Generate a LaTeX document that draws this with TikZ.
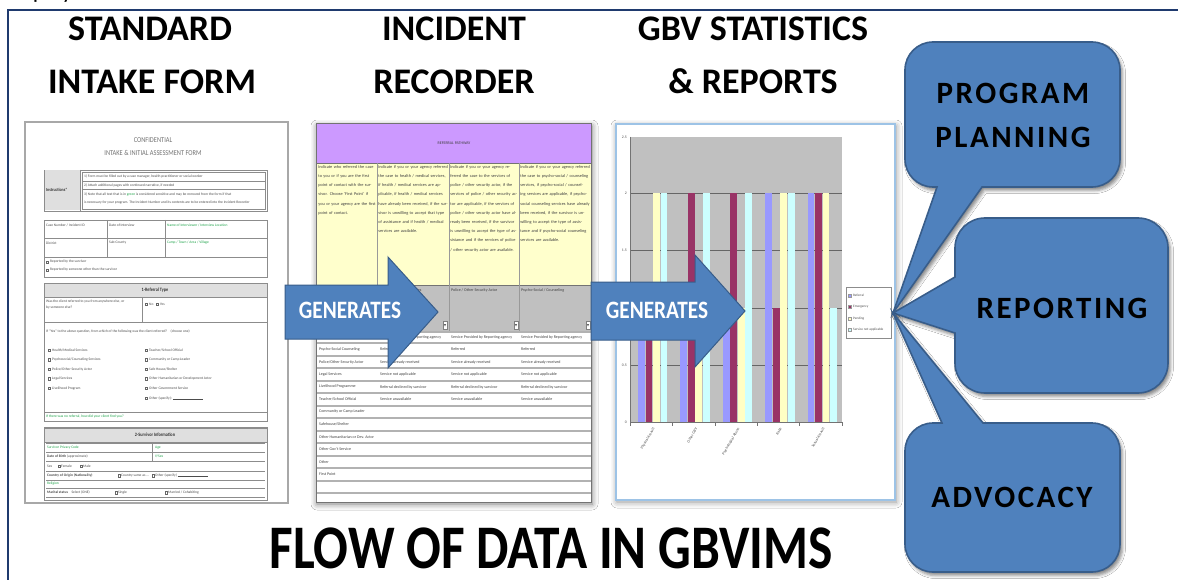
\documentclass[tikz,border=0pt]{standalone}
\usepackage{fontspec}
\setmainfont{Carlito}
\newfontfamily\bubfont[LetterSpace=8]{Carlito}
\usepackage{graphicx}
\usetikzlibrary{shadows,shadows.blur}
\definecolor{navy}{HTML}{1F3A6E}
\definecolor{arrfill}{HTML}{4F81BD}
\definecolor{arrline}{HTML}{385D8A}
\definecolor{purp}{HTML}{CC99FF}
\definecolor{ylw}{HTML}{FFFFCC}
\definecolor{gry}{HTML}{C0C0C0}
\definecolor{barb}{HTML}{9999FF}
\definecolor{barm}{HTML}{993366}
\definecolor{bary}{HTML}{FFFFC4}
\definecolor{barc}{HTML}{CCFFFF}
\definecolor{frm}{HTML}{A8A8A8}
\definecolor{chartb}{HTML}{9DC3E6}
\definecolor{grn}{HTML}{1FA34A}
\newcommand\hs[1]{\scalebox{0.85}[1]{#1}}
\newcommand\cbx[2]{\draw[black!60, line width=0.3] (#1,#2-1.2) rectangle ++(2.2,2.4);}
\begin{document}
\begin{tikzpicture}[x=1pt,y=-1pt,
  head/.style={font=\bfseries\fontsize{36}{36}\selectfont, inner sep=0, text=black},
  titl/.style={font=\bfseries\fontsize{62}{62}\selectfont, inner sep=0, text=black},
  gen/.style={font=\bfseries\fontsize{25}{25}\selectfont, text=white, inner sep=0},
  bub/.style={fill=arrfill, draw=arrline, line width=1.6,
     blur shadow={shadow xshift=2.5pt, shadow yshift=-3.5pt, shadow blur radius=3pt, shadow opacity=45}},
  bubtxt/.style={font=\bubfont\bfseries\fontsize{31}{31}\selectfont, inner sep=0, text=black},
  arr/.style={fill=arrfill, draw=arrline, line width=1},
  ft/.style={font=\fontsize{3.6}{4.2}\selectfont, inner sep=0, anchor=west, text=black!70},
  fg/.style={ft, text=grn},
  fb/.style={font=\bfseries\fontsize{5}{5}\selectfont, inner sep=0, text=black!80},
  tbl/.style={draw=black!45, line width=0.6},
  rt/.style={font=\fontsize{4}{4.5}\selectfont, inner sep=0, anchor=west, text=black!75},
  para/.style={font=\fontsize{4.3}{9.2}\selectfont, inner sep=1.2, anchor=north west, align=left, text=black!75},
  rowl/.style={draw=gray!60, line width=1.2},
  gridl/.style={draw=black!60, line width=0.9},
  ct/.style={font=\fontsize{3.8}{4}\selectfont, inner sep=0, text=black!70}
]
\useasboundingbox (0,0) rectangle (1178,580);
\fill[white] (0,0) rectangle (1178,580);
% cut-off text at top edge
\node[font=\fontsize{24}{24}\selectfont, anchor=base west, inner sep=0, text=black] (disp) at (3,-1) {Display};
% frame
\draw[navy, line width=2] (8,580) -- (8,10) -- (1178,10);

% headings
\node[head] (h1a) at (150,29) {STANDARD};
\node[head] (h1b) at (152,81.5) {INTAKE FORM};
\node[head] (h2a) at (454,29) {INCIDENT};
\node[head] (h2b) at (454,81.5) {RECORDER};
\node[head] (h3a) at (753,29) {GBV STATISTICS};
\node[head] (h3b) at (753,81.5) {\& REPORTS};

% ================= FORM =================
\draw[frm, line width=1.4, fill=white] (25,122) rectangle (288,503);
\node[font=\fontsize{7.5}{7.5}\selectfont, inner sep=0, text=black!55] (f1) at (153,140) {\hs{CONFIDENTIAL}};
\node[font=\fontsize{7.5}{7.5}\selectfont, inner sep=0, text=black!55] (f2) at (153,153) {\hs{INTAKE \& INITIAL ASSESSMENT FORM}};
% instructions
\draw[tbl] (44,170) rectangle (267,211);
\fill[gray!25] (44.5,170.5) rectangle (80,210.5);
\draw[tbl] (80,170) -- (80,211);
\node[fb, anchor=west, font=\bfseries\fontsize{4.6}{5}\selectfont] (fi) at (46,190) {\hs{Instructions*}};
\draw[tbl] (82,172) rectangle (265,181);
\draw[tbl] (82,181) rectangle (265,189);
\draw[tbl] (82,189) rectangle (265,209);
\node[ft] at (84,176.5) {1) Form must be filled out by a case manager, health practitioner or social worker};
\node[ft] at (84,185) {2) Attach additional pages with continued narrative, if needed};
\node[ft] at (84,194) {3) Note that all text that is in {\color{grn}green} is considered sensitive and may be removed from the form if that};
\node[ft] at (84,203) {is necessary for your program. The Incident Number and its contents are to be entered into the Incident Recorder};
% case table
\draw[tbl] (44,220) rectangle (267,277);
\draw[tbl] (107,220) -- (107,257);
\draw[tbl] (165,220) -- (165,257);
\draw[tbl] (44,238) -- (267,238);
\draw[tbl] (44,257) -- (267,257);
\node[ft] at (46,225) {Case Number / Incident ID};
\node[ft] at (109,225) {Date of Interview};
\node[fg] at (167,225) {Name of Interviewer / Interview Location};
\node[ft] at (46,243) {District};
\node[ft] at (109,243) {Sub-County};
\node[fg] at (167,243) {Camp / Town / Area / Village};
\cbx{46}{262} \node[ft] at (50,262) {Reported by the survivor};
\cbx{46}{270} \node[ft] at (50,270) {Reported by someone other than the survivor};
% referral type
\draw[tbl, fill=gray!25] (44,283) rectangle (267,297);
\node[fb] (fr) at (155,290) {\hs{1-Referral Type}};
\draw[tbl] (44,297) rectangle (267,322);
\draw[tbl] (142,297) -- (142,322);
\node[ft] at (46,302) {Was the client referred to you from anywhere else, or};
\node[ft] at (46,308) {by someone else?};
\cbx{145}{304} \node[ft] at (149,304) {No};
\cbx{156}{304} \node[ft] at (160,304) {Yes};
\draw[tbl] (44,322) rectangle (267,412);
\node[ft] at (46,331) {If ``Yes'' to the above question, from which of the following was the client referred?\quad (choose one)};
\foreach \t [count=\i from 0] in {Health/Medical Services, Psychosocial/Counseling Services, Police/Other Security Actor, Legal Services, Livelihood Program}{
  \cbx{48}{350+9.6*\i} \node[ft] at (52,350+9.6*\i) {\t};
}
\foreach \t [count=\i from 0] in {Teacher/School Official, Community or Camp Leader, Safe House/Shelter, Other Humanitarian or Development Actor, Other Government Service, Other (specify): \rule{30pt}{0.2pt}}{
  \cbx{145}{350+9.6*\i} \node[ft] at (149,350+9.6*\i) {\t};
}
\draw[tbl] (44,412) rectangle (267,421);
\node[fg] at (46,416.5) {If there was no referral, how did your client find you?};
% survivor info
\draw[tbl] (44,427) rectangle (267,500);
\draw[tbl, fill=gray!25] (44,428) rectangle (267,442);
\node[fb] (fs) at (155,435) {\hs{2-Survivor Information}};
\foreach \yy in {443,452,461,471,480,488,497}{ \draw[tbl] (46,\yy) -- (265,\yy); }
\draw[tbl] (152,443) -- (152,461);
\node[fg] at (47,447.5) {Survivor Privacy Code};
\node[fg] at (155,447.5) {Age};
\node[ft] at (47,456.5) {\textbf{Date of Birth} (approximate)};
\node[fg] at (155,456.5) {Y/Sex};
\node[ft] at (47,466) {Sex};
\cbx{58}{466} \node[ft] at (61,466) {Female};
\cbx{80}{466} \node[ft] at (83,466) {Male};
\node[ft] at (47,475.5) {\textbf{Country of Origin (Nationality)}};
\cbx{118}{475.5} \node[ft] at (121,475.5) {Country same as ...};
\cbx{152}{475.5} \node[ft] at (155,475.5) {Other (specify) \rule{30pt}{0.2pt}};
\node[fg] at (47,484) {Religion};
\node[ft] at (47,492.5) {\textbf{Marital status}\quad Select (ONE)};
\cbx{115}{492.5} \node[ft] at (118,492.5) {Single};
\cbx{165}{492.5} \node[ft] at (168,492.5) {Married / Cohabiting};

% ================= INCIDENT RECORDER =================
\fill[white, blur shadow={shadow xshift=1pt, shadow yshift=-2pt, shadow blur radius=6pt, shadow opacity=55}] (316,124) rectangle (591,502);
\fill[purp] (317,124) rectangle (591,163);
\node[font=\fontsize{4}{4}\selectfont, inner sep=0, text=black!75] (rp) at (454,143) {REFERRAL PATHWAY};
\fill[ylw] (317,163) rectangle (591,285);
\fill[gry] (317,285) rectangle (591,332);
\draw[black!55, line width=0.6] (317,163) -- (591,163);
\draw[black!55, line width=0.6] (317,285) -- (591,285);
\foreach \xx in {377,449,519}{ \draw[black!40, line width=0.5] (\xx,163) -- (\xx,332); }
\node[para, text width=57.6] (c1) at (317,164) {Indicate who referred the case to you or if you are the first point of contact with the survivor. Choose 'First Point' if you or your agency are the first point of contact.};
\node[para, text width=69.6] (c2) at (377,164) {Indicate if you or your agency referred the case to health / medical services, if health / medical services are applicable, if health / medical services have already been received, if the survivor is unwilling to accept that type of assistance and if health / medical services are available.};
\node[para, text width=67.6] (c3) at (449,164) {Indicate if you or your agency referred the case to the services of police / other security actor, if the services of police / other security actor are applicable, if the services of police / other security actor have already been received, if the survivor is unwilling to accept the type of assistance and if the services of police / other security actor are available.};
\node[para, text width=69.6] (c4) at (519,164) {Indicate if you or your agency referred the case to psycho-social / counseling services, if psycho-social / counseling services are applicable, if psycho-social counseling services have already been received, if the survivor is unwilling to accept the type of assistance and if psycho-social counseling services are available.};
\node[rt] at (380,290) {Health / Medical Services};
\node[rt] at (451,290) {Police / Other Security Actor};
\node[rt] at (521,290) {Psycho-Social / Counseling};
\foreach \xx in {443,514,586}{ \draw[black!50, fill=white, line width=0.3] (\xx,321) rectangle ++(4,8); \fill[black!60] (\xx+0.8,324) -- (\xx+3.2,324) -- (\xx+2,326.5) -- cycle; }
\foreach \yy in {332,343,356,368,381,393,406,418,431,443,456,468,481,493}{ \draw[rowl] (317,\yy) -- (591,\yy); }
\foreach \t [count=\i from 0] in {Psycho-Social Counseling, Police/Other Security Actor, Legal Services, Livelihood Programme, Teacher/School Official, Community or Camp Leader, Safehouse/Shelter, Other Humanitarian or Dev. Actor, Other Gov't Service, Other, First Point}{
  \node[rt] at (319,349.5+12.48*\i) {\t};
}
\foreach \xx in {380,451,521}{
  \node[rt] at (\xx,337.5) {Service Provided by Reporting agency};
  \foreach \t [count=\i from 0] in {Referred, Service already received, Service not applicable, Referral declined by survivor, Service unavailable}{
    \node[rt] at (\xx,349.5+12.48*\i) {\t};
  }
}
\draw[black!55, line width=1] (316,124) rectangle (591,502);

% ================= CHART =================
\draw[chartb, line width=1.2, fill=white, blur shadow={shadow xshift=1pt, shadow yshift=-2pt, shadow blur radius=6pt, shadow opacity=45}] (616,124) rectangle (895,500);
\fill[gry] (630,137) rectangle (842,422);
\foreach \yy in {193,250,308,365}{ \draw[gridl] (630,\yy) -- (842,\yy); }
\foreach \g/\va/\vb/\vc/\vd in {0/1/1/2/2,1/1/2/1/2,2/1/2/1/2,3/2/1/2/2,4/2/2/2/1}{
  \pgfmathsetmacro\gx{630+42.4*\g}
  \fill[barb] (\gx+8,422) rectangle (\gx+14.8,422-114.5*\va);
  \fill[barm] (\gx+15.5,422) rectangle (\gx+22.3,422-114.5*\vb);
  \fill[bary] (\gx+23,422) rectangle (\gx+29.8,422-114.5*\vc);
  \fill[barc] (\gx+30.5,422) rectangle (\gx+37.3,422-114.5*\vd);
}
\draw[black!55, line width=0.6] (630,137) -- (630,422) -- (842,422);
\foreach \k in {0,...,5}{ \draw[black!55, line width=0.6] (630+42.4*\k,422) -- (630+42.4*\k,426); }
\foreach \yy/\t in {137/2.5,193/2,250/1.5,308/1,365/0.5,422/0}{ \node[ct, anchor=east] at (627,\yy) {\t}; }
\foreach \g/\t in {0/Physical Assault,1/Other GBV,2/Psychological Abuse,3/Rape,4/Sexual Assault}{
  \node[ct, rotate=60, anchor=east] at (630+42.4*\g+24,428) {\t};
}
\draw[black!45, fill=white, line width=0.5] (846,287) rectangle (891,338);
\foreach \c/\t [count=\i from 0] in {barb/Referral,barm/Emergency,bary/Pending,barc/Service not applicable}{
  \fill[\c, draw=black!40, line width=0.2] (848.5,294+11.5*\i) rectangle ++(3,3);
  \node[ct, anchor=west, font=\fontsize{3.4}{4}\selectfont] at (853,295.5+11.5*\i) {\t};
}

% ================= ARROWS =================
\coordinate (t1) at (438,312);
\coordinate (t2) at (745,311);
\draw[arr] (285,285) -- (388,285) -- (388,257) -- (t1) -- (388,368) -- (388,339) -- (285,339) -- cycle;
\draw[arr] (591,282) -- (695,282) -- (695,255) -- (t2) -- (695,367) -- (695,340) -- (591,340) -- cycle;
\node[gen] (g1) at (350,310) {\hs{GENERATES}};
\node[gen] (g2) at (657,310) {\hs{GENERATES}};

% ================= BUBBLES =================
\coordinate (tip) at (893,313);
\draw[bub] (933,42) -- (1092,42) .. controls (1107.5,42) and (1120,54.5) .. (1120,70) -- (1120,159) .. controls (1120,174.5) and (1107.5,187) .. (1092,187) -- (982,187) -- (tip) -- (937,187) -- (933,187) .. controls (917.5,187) and (905,174.5) .. (905,159) -- (905,70) .. controls (905,54.5) and (917.5,42) .. (933,42) -- cycle;
\draw[bub] (985,218) -- (1138,218) .. controls (1154.6,218) and (1168,231.4) .. (1168,248) -- (1168,363) .. controls (1168,379.6) and (1154.6,393) .. (1138,393) -- (985,393) .. controls (968.4,393) and (955,379.6) .. (955,363) -- (955,333) -- (tip) -- (955,277) -- (955,248) .. controls (955,231.4) and (968.4,218) .. (985,218) -- cycle;
\draw[bub] (933,423) -- (942,423) -- (tip) -- (983,423) -- (1092,423) .. controls (1107.5,423) and (1120,435.5) .. (1120,451) -- (1120,544) .. controls (1120,559.5) and (1107.5,572) .. (1092,572) -- (933,572) .. controls (917.5,572) and (905,559.5) .. (905,544) -- (905,451) .. controls (905,435.5) and (917.5,423) .. (933,423) -- cycle;
\node[bubtxt] (b1a) at (1013,93) {PROGRAM};
\node[bubtxt] (b1b) at (1013,137) {PLANNING};
\node[bubtxt] (b2) at (1062,308) {REPORTING};
\node[bubtxt] (b3) at (1012,497) {ADVOCACY};

% ================= TITLE =================
\node[titl] (title) at (551,548) {\scalebox{0.83}[1]{FLOW OF DATA IN GBVIMS}};
\end{tikzpicture}
\end{document}
